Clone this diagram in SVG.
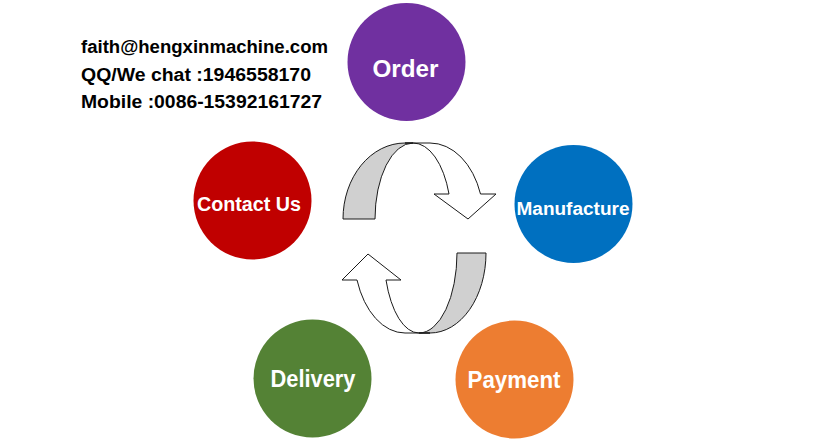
<svg xmlns="http://www.w3.org/2000/svg" width="816" height="440" viewBox="0 0 816 440">
<style>
.info{font-family:"Liberation Sans",Arial,sans-serif;font-weight:bold;font-size:18px;fill:#000}
.lbl{font-family:"Liberation Sans",Arial,sans-serif;font-weight:bold;fill:#fff;text-anchor:middle}
.arr{stroke:#1a1a1a;stroke-width:1;stroke-linejoin:miter}
.back{fill:#d0d0d0}
.front{fill:#fff}
</style>
<rect width="816" height="440" fill="#fff"/>
<g id="contact-info">
<text class="info" x="81" y="53" textLength="247" lengthAdjust="spacingAndGlyphs">faith@hengxinmachine.com</text>
<text class="info" x="81" y="80.5" textLength="230" lengthAdjust="spacingAndGlyphs">QQ/We chat :1946558170</text>
<text class="info" x="81" y="107.5" textLength="241" lengthAdjust="spacingAndGlyphs">Mobile :0086-15392161727</text>
</g>
<g id="connectors">
<path class="arr back" d="M343,219 A62,76 0 0 1 405,143 L413,143 A38,76 0 0 0 375,219 Z"/>
<path class="arr front" d="M405,143 L430,143 A53.5,76 0 0 1 480.5,194 L496,194 L468,219 L434,194 L449,194 A38,76 0 0 0 413,143 Z"/>
<path class="arr back" d="M486,253 A56,80 0 0 1 430,333 L419,333 A38,80 0 0 0 457,253 Z"/>
<path class="arr front" d="M405,333 A51,80 0 0 1 357,280 L342,280 L368,254 L401,280 L386,280 A35,80 0 0 0 419,333 L430,333 Z"/>
</g>
<g id="order">
<circle cx="406.5" cy="62" r="59" fill="#7030A0"/>
<text class="lbl" x="405.5" y="77" font-size="23" textLength="66" lengthAdjust="spacingAndGlyphs">Order</text>
</g>
<g id="contact-us">
<circle cx="252.5" cy="200.5" r="59" fill="#C00000"/>
<text class="lbl" x="249" y="211" font-size="20" textLength="104" lengthAdjust="spacingAndGlyphs">Contact Us</text>
</g>
<g id="manufacture">
<circle cx="573.5" cy="204" r="59" fill="#0070C0"/>
<text class="lbl" x="573" y="215" font-size="18" textLength="113" lengthAdjust="spacingAndGlyphs">Manufacture</text>
</g>
<g id="delivery">
<circle cx="312.5" cy="378.5" r="59" fill="#548235"/>
<text class="lbl" x="313" y="387" font-size="23" textLength="85" lengthAdjust="spacingAndGlyphs">Delivery</text>
</g>
<g id="payment">
<circle cx="514.5" cy="379.5" r="59" fill="#ED7D31"/>
<text class="lbl" x="514" y="388" font-size="23" textLength="93" lengthAdjust="spacingAndGlyphs">Payment</text>
</g>
</svg>
